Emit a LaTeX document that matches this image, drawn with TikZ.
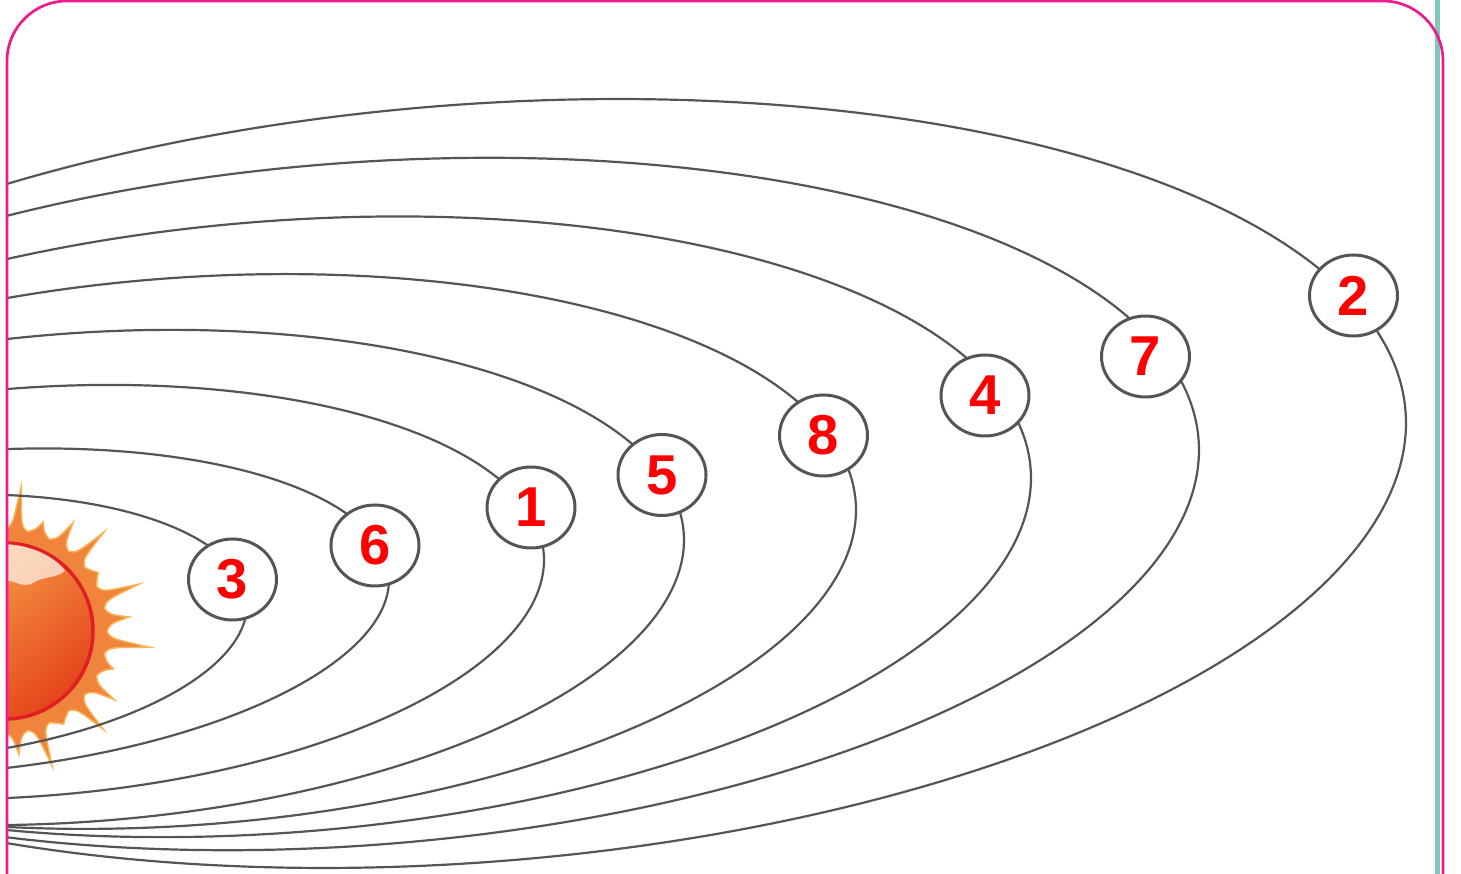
\documentclass[tikz,border=0pt]{standalone}
\usepackage{fontspec}
\setsansfont{Liberation Sans}
\usetikzlibrary{shapes.geometric}
\definecolor{rimpink}{HTML}{EC1A8C}
\definecolor{stripe}{HTML}{7CCBB8}
\definecolor{orbitgray}{HTML}{555555}
\definecolor{numred}{HTML}{FF0000}
\definecolor{rayfill}{HTML}{F0843C}
\definecolor{rayedge}{HTML}{F9B457}
\definecolor{sunlight}{HTML}{F7A54C}
\definecolor{sunmid}{HTML}{F08A36}
\definecolor{sundeep}{HTML}{E5441B}
\definecolor{sunrim}{HTML}{DE2023}

\begin{document}
\begin{tikzpicture}[x=0.1mm,y=-0.1mm,
    orbitline/.style={draw=orbitgray,line width=0.22mm},
    planet/.style={ellipse,draw=orbitgray,line width=0.3mm,fill=white,
      minimum width=8.8mm,minimum height=8.1mm,inner sep=0pt,
      text=numred,font=\sffamily\bfseries\fontsize{16}{16}\selectfont}]
  \useasboundingbox (0,0) rectangle (1461,874);
  \draw[stripe,line width=0.5mm] (1437.5,0) -- (1437.5,874);
  \begin{scope}
    \clip[rounded corners=6mm] (7,900) |- (1443,1) -- (1443,900) -- cycle;
    % sun, half hidden behind the left edge
    \begin{scope}[shift={(5,631)}]
      \filldraw[fill=rayfill,draw=rayedge,line width=0.15mm] (0:102)
        \foreach \i [evaluate=\i as \ang using \i*360/28,
                     evaluate=\i as \rt using 128+18*cos(\i*137)] in {0,...,27} {
          .. controls ({\ang+4}:106) .. ({\ang+6.43}:\rt)
          .. controls ({\ang+8.8}:106) .. ({\ang+12.86}:102) } -- cycle;
      \shade[top color=sunlight,middle color=sunmid,bottom color=sundeep,shading angle=40] (0,0) circle (88);
      \draw[sunrim,line width=0.35mm] (0,0) circle (88);
      \fill[white,opacity=0.65] (0,-87) .. controls (25,-86) and (50,-75) .. (60,-60)
        .. controls (50,-52) and (38,-55) .. (28,-48)
        .. controls (18,-42) and (8,-52) .. (0,-50) -- cycle;
    \end{scope}
    % orbits: centre, right semi-diameter (w,dy), vertical semi-diameter v
    \foreach \cx/\cy/\w/\dy/\v in {-80/627.5/327/-22.5/131.2, -40/612/429/-32/160.4,
        30/592.1/514/-32.1/204.7, 80/577.5/604/-37.5/244.8, 185/551.5/671/-41.5/274.3,
        280/526.8/751/-48.8/306.5, 358/504/841/-54/342, 471/483.5/935/-60.5/379.7}
      \draw[orbitline] plot[domain=180:540,samples=180,smooth]
        ({\cx+\w*cos(\x)},{\cy+\dy*cos(\x)-\v*sin(\x)});
  \end{scope}
  \foreach \n/\px/\py in {3/232.5/579.5, 6/375/545.5, 1/531/507.5, 5/662/475,
      8/823.5/435.5, 4/985/395.5, 7/1145.5/356.5, 2/1353.5/295.5}
    \node[planet] (p\n) at (\px,\py) {\n};
  \draw[rimpink,line width=0.27mm,rounded corners=6mm] (7,900) |- (1443,1) -- (1443,900);
\end{tikzpicture}
\end{document}
